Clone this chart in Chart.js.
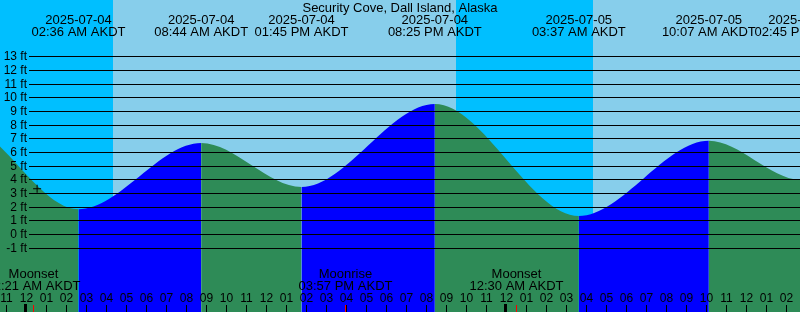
<!DOCTYPE html>
<html>
<head>
<meta charset="utf-8">
<script src="https://cdn.jsdelivr.net/npm/chart.js@4.4.1/dist/chart.umd.min.js"></script>
<style>
  html, body { margin: 0; padding: 0; background: #87ceeb; }
  canvas { display: block; }
</style>
</head>
<body>
<canvas id="tide" width="800" height="312"></canvas>
<script>
(function () {
  'use strict';

  var TITLE = 'Security Cove, Dall Island, Alaska';

  // times are hours since 2025-07-04 00:00 AKDT, heights in feet.
  // first, last and the one before are off screen so the ends stay smooth
  var tideTimes = [-9.6, -3.4, 2.6, 8.733, 13.75, 20.417, 27.617, 34.117, 38.75, 45.2];
  var tideHeights = [3.6, 8.2, 1.85, 6.7, 3.48, 9.56, 1.36, 6.87, 4.0, 9.3];

  var eventTimes = [2.6, 8.733, 13.75, 20.417, 27.617, 34.117, 38.75];
  var eventDates = ['2025-07-04', '2025-07-04', '2025-07-04', '2025-07-04', '2025-07-05', '2025-07-05', '2025-07-05'];
  var eventClock = ['02:36 AM AKDT', '08:44 AM AKDT', '01:45 PM AKDT', '08:25 PM AKDT', '03:37 AM AKDT', '10:07 AM AKDT', '02:45 PM AKDT'];

  var moonTimes = [0.35, 15.95, 24.5];
  var moonNames = ['Moonset', 'Moonrise', 'Moonset'];
  var moonClock = ['12:21 AM AKDT', '03:57 PM AKDT', '12:30 AM AKDT'];

  // night = sunset .. sunrise
  var nightStart = [-3, 21.475];
  var nightEnd = [4.34, 28.31];

  var hourTicks = [-1, 0, 1, 2, 3, 4, 5, 6, 7, 8, 9, 10, 11, 12, 13, 14, 15, 16, 17, 18, 19,
    20, 21, 22, 23, 24, 25, 26, 27, 28, 29, 30, 31, 32, 33, 34, 35, 36, 37, 38];
  var hourLabels = ['11', '12', '01', '02', '03', '04', '05', '06', '07', '08', '09', '10', '11',
    '12', '01', '02', '03', '04', '05', '06', '07', '08', '09', '10', '11',
    '12', '01', '02', '03', '04', '05', '06', '07', '08', '09', '10', '11',
    '12', '01', '02'];
  var midnights = [0, 24];

  var ftTicks = [-1, 0, 1, 2, 3, 4, 5, 6, 7, 8, 9, 10, 11, 12, 13];

  var markTimes = [0.53];
  var markHeights = [3.35];

  var DAY = '#87ceeb';
  var NIGHT = '#00bfff';
  var RISE = '#0000ff';
  var FALL = '#2e8b57';
  var FONT = '"Liberation Sans", Arial, sans-serif';

  function pts(xs, ys) {
    return xs.map(function (x, i) { return { x: x, y: ys[i] }; });
  }

  var skyPlugin = {
    id: 'sky',
    beforeDatasetsDraw: function (chart) {
      var ctx = chart.ctx;
      var a = chart.chartArea;
      var xs = chart.scales.x;
      ctx.save();
      ctx.fillStyle = DAY;
      ctx.fillRect(a.left, a.top, a.right - a.left, a.bottom - a.top);
      ctx.fillStyle = NIGHT;
      for (var i = 0; i < nightStart.length; i++) {
        var x0 = Math.max(a.left, Math.round(xs.getPixelForValue(nightStart[i])));
        var x1 = Math.min(a.right, Math.round(xs.getPixelForValue(nightEnd[i])));
        ctx.fillRect(x0, a.top, x1 - x0, a.bottom - a.top);
      }
      ctx.restore();
    }
  };

  var overlayPlugin = {
    id: 'overlay',
    afterDatasetsDraw: function (chart) {
      var ctx = chart.ctx;
      var xs = chart.scales.x;
      var ys = chart.scales.y;
      var i, x, y;
      ctx.save();
      ctx.fillStyle = '#000';

      // depth lines and labels
      ctx.font = '12px ' + FONT;
      ctx.textAlign = 'right';
      ctx.textBaseline = 'middle';
      ftTicks.forEach(function (v) {
        y = Math.floor(ys.getPixelForValue(v));
        ctx.fillRect(29, y, 800 - 29, 1);
        ctx.fillText(v + ' ft', 27, y + 0.5);
      });

      // title and tide event times
      ctx.textAlign = 'center';
      ctx.textBaseline = 'alphabetic';
      ctx.font = '13px ' + FONT;
      ctx.fillText(TITLE, 400, 12);
      for (i = 0; i < eventTimes.length; i++) {
        x = xs.getPixelForValue(eventTimes[i]);
        ctx.fillText(eventDates[i], x, 24);
        ctx.fillText(eventClock[i], x, 36);
      }

      // moon
      for (i = 0; i < moonTimes.length; i++) {
        x = xs.getPixelForValue(moonTimes[i]);
        ctx.fillText(moonNames[i], x, 277.5);
        ctx.fillText(moonClock[i], x, 290);
      }

      // hours
      ctx.font = '12px ' + FONT;
      for (i = 0; i < hourTicks.length; i++) {
        x = xs.getPixelForValue(hourTicks[i]);
        ctx.fillText(hourLabels[i], x, 302);
        ctx.fillRect(Math.floor(x), 305, 1, 7);
      }
      midnights.forEach(function (h) {
        x = Math.floor(xs.getPixelForValue(h));
        ctx.fillRect(x - 2, 304, 3, 8);
      });
      ctx.fillStyle = '#ff0000';
      moonTimes.forEach(function (h) {
        x = Math.floor(xs.getPixelForValue(h));
        ctx.fillRect(x, 305, 1, 7);
      });
      ctx.restore();
    }
  };

  new Chart(document.getElementById('tide'), {
    type: 'line',
    data: {
      datasets: [{
        label: 'mark',
        data: pts(markTimes, markHeights),
        showLine: false,
        pointStyle: 'cross',
        pointRadius: 4,
        borderColor: '#000',
        borderWidth: 1
      }, {
        label: 'tide',
        data: pts(tideTimes, tideHeights),
        fill: 'start',
        borderWidth: 0,
        borderColor: 'rgba(0,0,0,0)',
        backgroundColor: FALL,
        pointRadius: 0,
        cubicInterpolationMode: 'monotone',
        capBezierPoints: false,
        segment: {
          backgroundColor: function (c) {
            return c.p1.parsed.y > c.p0.parsed.y ? RISE : FALL;
          }
        }
      }]
    },
    options: {
      responsive: false,
      animation: false,
      layout: { padding: 0, autoPadding: false },
      plugins: { legend: { display: false }, tooltip: { enabled: false } },
      scales: {
        x: { type: 'linear', min: -1.325, max: 38.675, display: false },
        y: { type: 'linear', min: -5.673, max: 17.167, display: false }
      }
    },
    plugins: [skyPlugin, overlayPlugin]
  });
})();
</script>
</body>
</html>
